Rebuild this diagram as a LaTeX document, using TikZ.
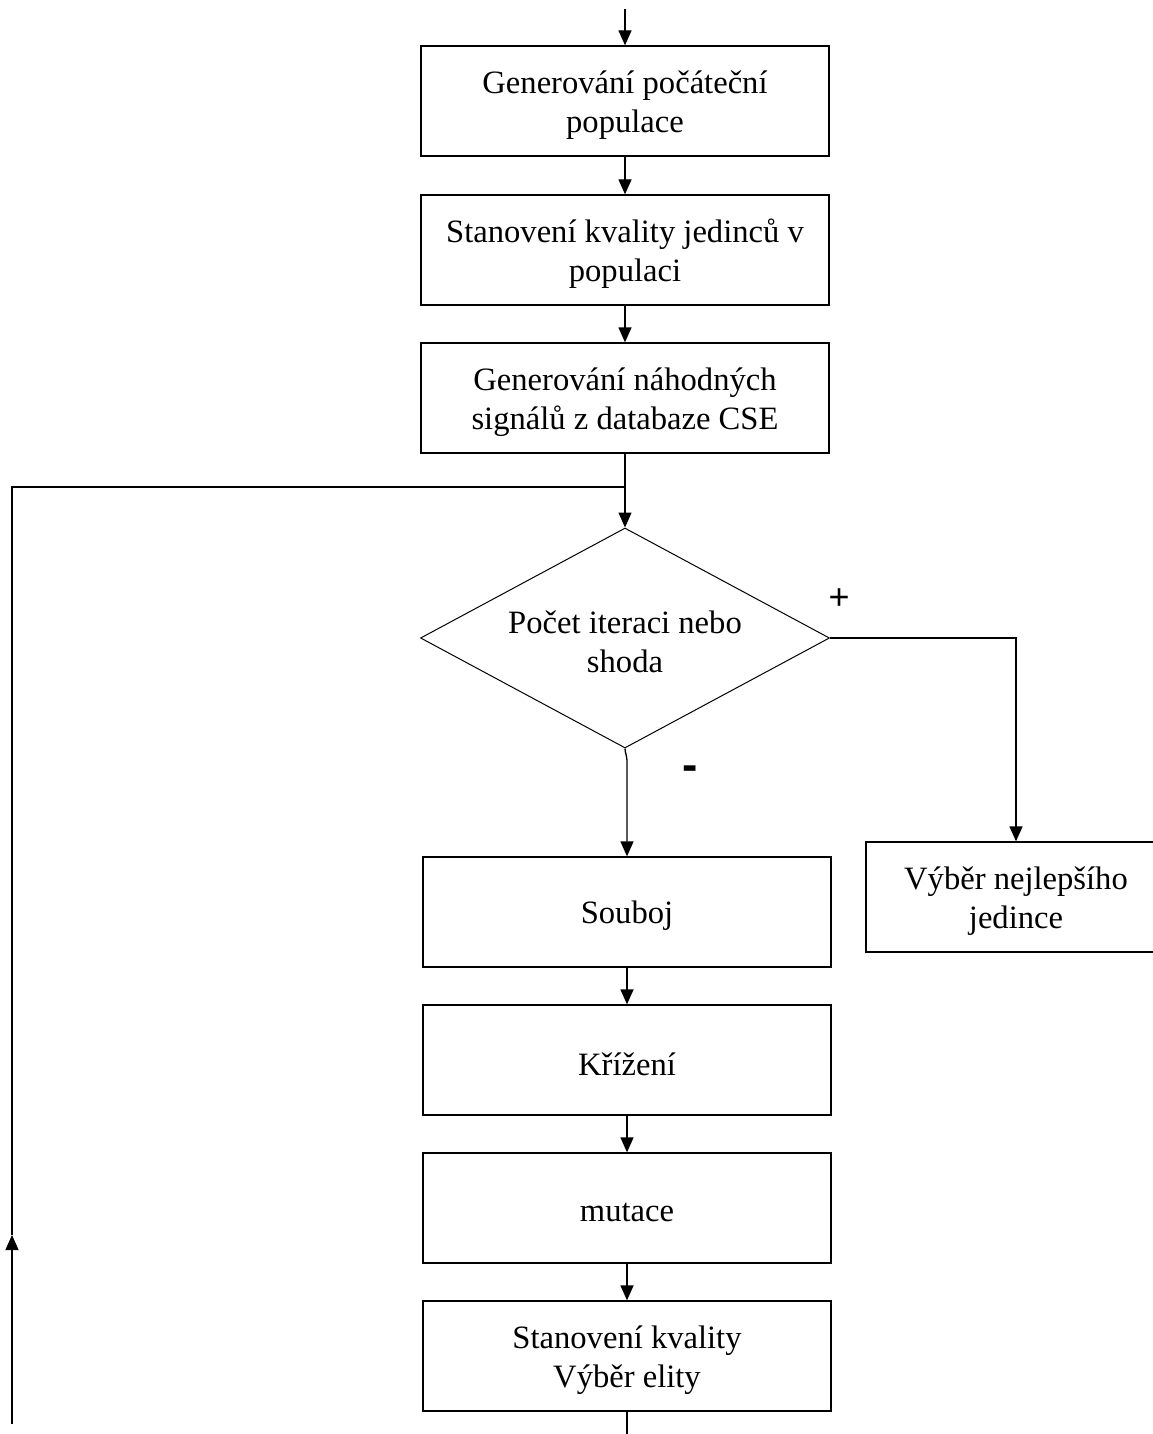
\documentclass[tikz,border=0pt]{standalone}
\usepackage{fontspec}
\setmainfont{Liberation Serif}
\newfontfamily\signfont{Liberation Sans}
\usetikzlibrary{arrows.meta,shapes.geometric}

\begin{document}
\begin{tikzpicture}[x=1pt,y=-1pt,
  line width=1.3pt,
  boxtext/.style={font=\fontsize{32.6}{39}\selectfont, align=center,
                  inner sep=0pt, yshift=-4pt},
  stepbox/.style={draw, rectangle, minimum width=408pt, minimum height=110pt,
                  inner sep=0pt, label={[boxtext]center:#1}},
  decision/.style={draw, diamond, line width=1pt, aspect=1.86,
                   minimum width=409pt, minimum height=220pt, inner sep=0pt,
                   label={[boxtext]center:#1}},
  arr/.style={-{Triangle[length=15pt,width=13pt]}},
  sign/.style={inner sep=0pt}]

  \useasboundingbox (0,0) rectangle (1153,1434);

  % main column
  \node[stepbox={Generování počáteční\\populace}]          (init)  at (625,101)  {};
  \node[stepbox={Stanovení kvality jedinců v\\populaci}]   (eval)  at (625,250)  {};
  \node[stepbox={Generování náhodných\\signálů z databaze CSE}] (gen) at (625,398) {};
  \node[decision={Počet iteraci nebo\\shoda}]              (test)  at (625,638)  {};
  \node[stepbox={Souboj}]                                  (duel)  at (627,912)  {};
  \node[stepbox={Křížení}]                                 (cross) at (627,1060) {};
  \node[stepbox={mutace}]                                  (mut)   at (627,1208) {};
  \node[stepbox={Stanovení kvality\\Výběr elity}]          (elite) at (627,1356) {};
  \node[stepbox={Výběr nejlepšího\\jedince}, minimum width=300pt] (best) at (1016,897) {};

  % branch labels
  \node[sign, font=\signfont\fontsize{36}{36}\selectfont] (plus) at (839,599) {+};
  \node[sign, font=\signfont\bfseries\fontsize{46}{46}\selectfont] (minus) at (690,773) {-};

  % free ends of the flow
  \coordinate (start) at ([yshift=36pt]init.north);
  \coordinate (tail)  at ([yshift=-23pt]elite.south);
  \coordinate (loopstart)  at (12,1424);
  \coordinate (loopmark)   at (12,1235);
  \coordinate (loopcorner) at (12,487);
  \coordinate (join) at (gen.south |- loopcorner);

  % connectors
  \draw[arr] (start) -- (init.north);
  \draw[arr] (init.south) -- (eval.north);
  \draw[arr] (eval.south) -- (gen.north);
  \draw[arr] (gen.south) -- (test.north);
  \draw[arr] (test.east) -| (best.north);
  \draw[arr] (test.south) .. controls ([yshift=-5pt]test.south)
        and ([xshift=2pt,yshift=-6pt]test.south) .. ([xshift=2pt,yshift=-14pt]test.south)
        -- (duel.north);
  \draw[arr] (duel.south) -- (cross.north);
  \draw[arr] (cross.south) -- (mut.north);
  \draw[arr] (mut.south) -- (elite.north);
  \draw (elite.south) -- (tail);

  % loop back line
  \draw[arr] (loopstart) -- (loopmark);
  \draw (loopmark) -- (loopcorner) -- (join);
\end{tikzpicture}
\end{document}
